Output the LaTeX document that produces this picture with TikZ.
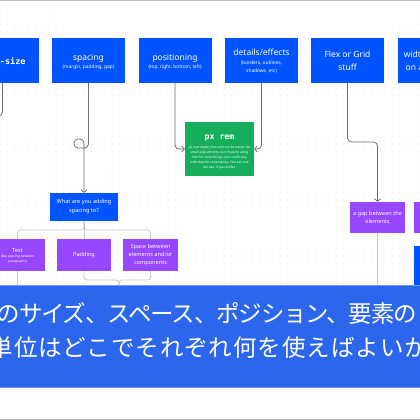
\documentclass[tikz,border=0pt]{standalone}
\usepackage{fontspec}
\setmainfont{Noto Sans}
\newfontfamily\monof{DejaVu Sans Mono}
\newfontfamily\cjkA[LetterSpace=-5]{Noto Sans CJK JP}
\newfontfamily\cjkB[LetterSpace=4]{Noto Sans CJK JP}
\usetikzlibrary{arrows.meta}
\definecolor{fblue}{RGB}{0,84,255}
\definecolor{fgreen}{RGB}{20,174,92}
\definecolor{fpurple}{RGB}{151,71,255}
\definecolor{banner}{RGB}{44,102,236}
\definecolor{bannerline}{RGB}{110,155,245}
\definecolor{conn}{RGB}{112,112,112}
\definecolor{treec}{RGB}{200,200,200}
\definecolor{dotc}{RGB}{214,214,214}
\definecolor{frame}{RGB}{190,190,190}
\begin{document}
\begin{tikzpicture}[x=1pt,y=-1pt,
  blk/.style={fill=fblue, draw=none, minimum width=73pt, minimum height=45pt, inner sep=0pt},
  prp/.style={fill=fpurple, text=white, align=center, inner sep=0pt, font=\fontsize{5.6}{8}\selectfont},
  ttl/.style={text=white, inner sep=0pt, anchor=base, font=\fontsize{8.5}{10}\selectfont},
  sub/.style={text=white, inner sep=0pt, anchor=base, font=\fontsize{4.8}{6}\selectfont},
  arr/.style={draw=conn, line width=0.8pt, rounded corners=4pt, -{Straight Barb[length=2.5pt,width=6pt]}},
  ln/.style={draw=conn, line width=0.8pt, rounded corners=4pt},
  tree/.style={draw=treec, line width=0.8pt, rounded corners=3pt},
]
\useasboundingbox (0,0) rectangle (420,420);
\clip (0,0) rectangle (420,420);
\fill[white] (0,0) rectangle (420,420);
\foreach \x in {0,7,...,420}{\foreach \y in {4,11,...,284}{\fill[dotc] (\x,\y) circle[radius=0.5pt];}}
\fill[white] (62,1.5) rectangle (398,31);
\draw[frame, line width=1pt] (0,0.5) -- (420,0.5);
\draw[frame, line width=1pt] (0,419.5) -- (420,419.5);

% top row
\node[blk] (fs) at (2.5,60.5) {};
\node[ttl, font=\monof\bfseries\fontsize{8.5}{10}\selectfont] (fsT) at (2.5,64) {font-size};
\node[blk] (sp) at (88.5,60.5) {};
\node[ttl] (spT) at (88.5,60) {spacing};
\node[sub] (spS) at (88.5,68.5) {(margin, padding, gap)};
\node[blk] (po) at (175,60.5) {};
\node[ttl] (poT) at (175,60) {positioning};
\node[sub] (poS) at (175,68.5) {(top, right, bottom, left)};
\node[blk] (de) at (261.5,60.5) {};
\node[ttl] (deT) at (261.5,56) {details/effects};
\node[sub] (deS1) at (261.5,64) {(borders, outlines,};
\node[sub] (deS2) at (261.5,72.5) {shadows, etc)};
\node[blk] (fl) at (347.5,60.5) {};
\node[ttl] (flT) at (347.5,57.5) {Flex or Grid};
\node[ttl] (flT2) at (347.5,70.5) {stuff};
\node[blk] (wd) at (434.5,60.5) {};
\node[ttl] (wdT) at (434.5,57.5) {width or height};
\node[ttl] (wdT2) at (434.5,70.5) {on an element};

% green
\node[fill=fgreen, minimum width=69pt, minimum height=54pt, inner sep=0pt] (px) at (219.5,149) {};
\node[ttl, font=\monof\bfseries\fontsize{8.3}{10}\selectfont] (pxT) at (219.5,139) {px rem};
\node[text=white, align=center, inner sep=0pt, anchor=north, font=\fontsize{3.3}{5.2}\selectfont] (pxB) at (219.5,145.3) {px is probably fine and can be easier for\\small adjustments, but if you're using\\rem for most things, you could stay\\with that for consistency. You can use\\em too, if you prefer.};

% question
\node[fill=fblue, text=white, align=center, minimum width=68pt, minimum height=28pt, inner sep=0pt, font=\fontsize{5.6}{9}\selectfont] (wh) at (84,207) {What are you adding\\spacing to?};

% purple
\node[prp, minimum width=55pt, minimum height=32pt] (tx) at (17.5,255) {};
\node[text=white, inner sep=0pt, font=\fontsize{5.6}{7}\selectfont] (txT) at (17.5,251) {Text};
\node[text=white, inner sep=0pt, align=center, font=\fontsize{3.3}{5}\selectfont] (txS) at (17.5,259.5) {(like spacing between\\paragraphs)};
\node[prp, minimum width=54pt, minimum height=32pt] (pd) at (84,255) {Padding};
\node[prp, minimum width=55pt, minimum height=32pt] (sb) at (150.5,255) {Space between\\elements and/or\\components};
\node[prp, minimum width=55pt, minimum height=31pt] (gp) at (377.5,217.5) {a gap between the\\elements};
\node[prp, minimum width=55pt, minimum height=31pt] (gp2) at (441.5,217.5) {};
\node[blk] (rb) at (450.5,268.5) {};

% connectors
\coordinate (fsEnd) at (-20,116);
\draw[ln] (fs.south) |- (fsEnd);
\draw[arr] (sp.south) -- (88.5,148) -- (74,148) -- (74,139) -- (84,139) -- (wh.north);
\draw[arr] (po.south) |- (px.west);
\draw[arr] (de.south) |- (px.east);
\draw[arr] (fl.south) -- (347.5,142) -| (gp.north);
\coordinate (gpEnd) at (377.5,290);
\draw[tree] (gp.south) -- (gpEnd);
\coordinate (tj) at (84,230);
\draw[tree] (wh.south) -- (tj) -| (tx.north);
\draw[tree] (wh.south) -- (tj) -| (sb.north);
\draw[tree] (wh.south) -- (pd.north);
\coordinate (txEnd) at (17.5,290);
\draw[tree] (tx.south) -- (txEnd);
\coordinate (mj) at (119,280);
\coordinate (mEnd) at (119,290);
\draw[tree] (pd.south) |- (mj) -- (mEnd);
\draw[tree] (sb.south) |- (mj) -- (mEnd);

% banner
\fill[banner] (-1,285) rectangle (421,387);
\draw[bannerline, line width=0.8pt] (-1,285) -- (421,285);
\draw[bannerline, line width=0.8pt] (-1,387) -- (421,387);
\node[anchor=west, inner sep=0pt, text=white, font=\cjkA\fontsize{23.5}{24}\selectfont] (b1) at (-3.5,313.5) {のサイズ、スペース、ポジション、要素の};
\node[anchor=west, inner sep=0pt, text=white, font=\cjkB\fontsize{23.5}{24}\selectfont] (b2) at (-10.5,348) {単位はどこでそれぞれ何を使えばよいか};
\end{tikzpicture}
\end{document}
